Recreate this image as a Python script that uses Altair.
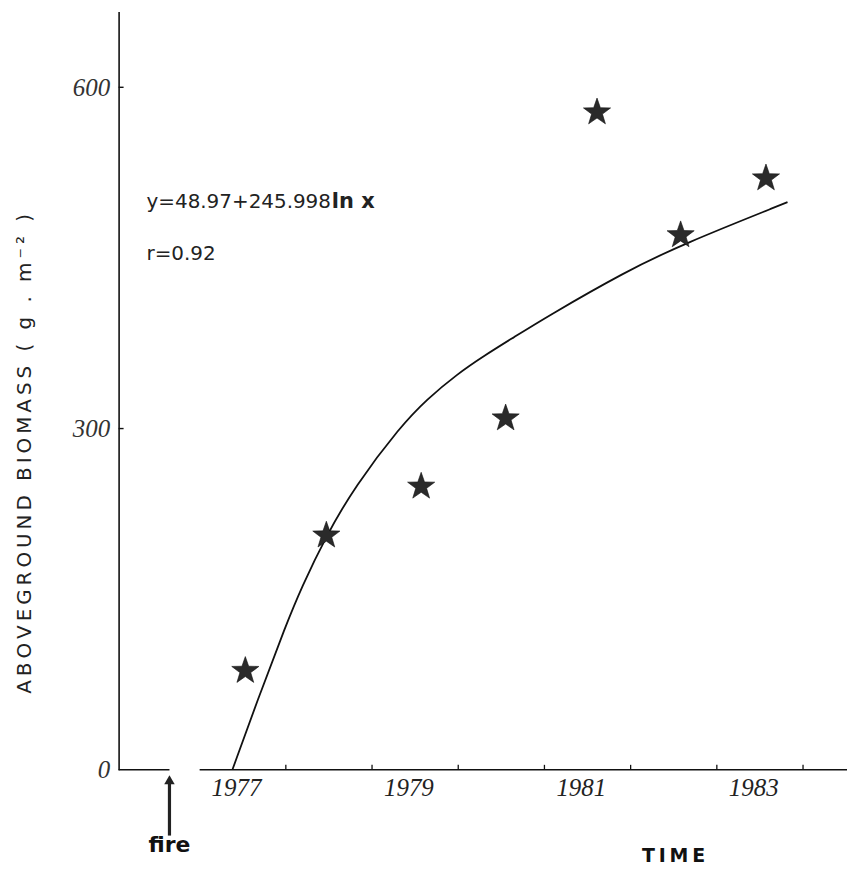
import altair as alt
import pandas as pd

# ---- data ----
obs_year = [1977.53, 1978.47, 1979.57, 1980.55, 1981.61, 1982.58, 1983.57]
obs_biomass = [87, 206, 249, 309, 578, 470, 520]

curve_year = [1977.38, 1977.69, 1978.0, 1978.18, 1978.47, 1978.80, 1979.33,
              1979.64, 1979.99, 1980.30, 1980.64, 1981.02, 1981.94, 1982.60, 1983.82]
curve_biomass = [0, 65, 127, 160, 206, 249, 302, 326, 348, 364, 380, 398, 438, 462, 499]

x_tick_years = [1978, 1979, 1980, 1981, 1982, 1983, 1984]
year_labels = [1977, 1979, 1981, 1983]
y_tick_values = [0, 300, 600]
fire_year = [1976.65]
axis_seg_start = [1976.06, 1977.0]
axis_seg_end = [1976.65, 1984.51]

x_domain = [1976.06, 1984.51]
y_domain = [0, 666.6]

W, H = 731, 761

obs = pd.DataFrame({"year": obs_year, "biomass": obs_biomass})
curve = pd.DataFrame({"year": curve_year, "biomass": curve_biomass})
xt = pd.DataFrame({"year": x_tick_years})
yl = pd.DataFrame({"year": year_labels, "label": [str(v) for v in year_labels]})
yt = pd.DataFrame({"v": [v for v in y_tick_values if v > 0]})
fire = pd.DataFrame({"year": fire_year})
segs = pd.DataFrame({"a": axis_seg_start, "b": axis_seg_end, "y": [0, 0]})

xs = alt.Scale(domain=x_domain, nice=False, zero=False)
ys = alt.Scale(domain=y_domain, nice=False, zero=False)

STAR = ("M0,-1 L0.235,-0.324 L0.951,-0.309 L0.380,0.124 L0.588,0.809 L0,0.4 "
        "L-0.588,0.809 L-0.380,0.124 L-0.951,-0.309 L-0.235,-0.324 Z")

thin = "\u2009"

# y axis (domain + labels)
yaxis = alt.Chart(obs).mark_point(opacity=0).encode(
    x=alt.X("year:Q", scale=xs, axis=None),
    y=alt.Y("biomass:Q", scale=ys, axis=alt.Axis(
        values=y_tick_values, ticks=False, grid=False, title=None,
        domainColor="#111", domainWidth=1.6,
        labelFont="Liberation Serif", labelFontStyle="italic",
        labelFontSize=25, labelColor="#333", labelPadding=9)),
)

ytick = alt.Chart(yt).mark_rule(color="#111", strokeWidth=1.4).encode(
    y=alt.Y("v:Q", scale=ys), x=alt.value(0), x2=alt.value(5))

xline = alt.Chart(segs).mark_rule(color="#111", strokeWidth=1.6).encode(
    x=alt.X("a:Q", scale=xs), x2="b:Q", y=alt.Y("y:Q", scale=ys))

xtick = alt.Chart(xt).mark_rule(color="#111", strokeWidth=1.3).encode(
    x=alt.X("year:Q", scale=xs), y=alt.value(H), y2=alt.value(H - 5))

xlab = alt.Chart(yl).mark_text(
    font="Liberation Serif", fontStyle="italic", fontSize=25, color="#222",
    align="center", baseline="alphabetic", dx=37).encode(
    x=alt.X("year:Q", scale=xs), y=alt.value(H + 26), text="label:N")

line = alt.Chart(curve).mark_line(color="#111", strokeWidth=1.8,
                                  interpolate="basis").encode(
    x=alt.X("year:Q", scale=xs), y=alt.Y("biomass:Q", scale=ys))

stars = alt.Chart(obs).mark_point(shape=STAR, size=820, filled=True,
                                  fill="#2a2a2a", stroke="#111",
                                  strokeWidth=0.6, opacity=1).encode(
    x=alt.X("year:Q", scale=xs), y=alt.Y("biomass:Q", scale=ys))

fire_rule = alt.Chart(fire).mark_rule(color="#222", strokeWidth=3.2).encode(
    x=alt.X("year:Q", scale=xs), y=alt.value(H + 66), y2=alt.value(H + 14))
fire_head = alt.Chart(fire).mark_point(shape="triangle-up", size=110,
                                       filled=True, color="#222",
                                       opacity=1).encode(
    x=alt.X("year:Q", scale=xs), y=alt.value(H + 10))
fire_text = alt.Chart(fire).mark_text(
    text="fire", font="DejaVu Sans", fontWeight="bold", fontSize=22,
    color="#111", align="center", baseline="alphabetic").encode(
    x=alt.X("year:Q", scale=xs), y=alt.value(H + 82))

ann = pd.DataFrame({"t": [0]})
time_text = alt.Chart(ann).mark_text(
    text=thin.join("TIME"), font="DejaVu Sans", fontWeight="bold",
    fontSize=19, color="#111", align="center", baseline="alphabetic").encode(
    x=alt.value(557), y=alt.value(H + 93))

ytitle_str = "ABOVEGROUND BIOMASS ( g . m\u207b\u00b2 )"
ytitle = alt.Chart(ann).mark_text(
    text=thin.join(ytitle_str), font="DejaVu Sans", fontSize=20,
    color="#222", angle=270, align="center", baseline="middle").encode(
    x=alt.value(-94), y=alt.value(444))

eq = alt.Chart(ann).mark_text(
    text="y=48.97+245.998", font="DejaVu Sans", fontSize=20,
    color="#222", align="left", baseline="alphabetic").encode(
    x=alt.value(28), y=alt.value(197))
eq_ln = alt.Chart(ann).mark_text(
    text="ln x", font="DejaVu Sans", fontSize=21, fontWeight="bold",
    color="#222", align="left", baseline="alphabetic").encode(
    x=alt.value(214), y=alt.value(197))
rtxt = alt.Chart(ann).mark_text(
    text="r=0.92", font="DejaVu Sans", fontSize=20,
    color="#222", align="left", baseline="alphabetic").encode(
    x=alt.value(28), y=alt.value(249))

chart = alt.layer(
    yaxis, ytick, xline, xtick, xlab, line, stars,
    fire_rule, fire_head, fire_text, time_text, ytitle, eq, eq_ln, rtxt
).properties(
    width=W, height=H,
    padding={"left": 111, "top": 2, "right": 0, "bottom": 100},
    autosize=alt.AutoSizeParams(type="none"),
    background="white",
).configure_view(stroke=None)

chart.save("out.html", embed_options={"renderer": "svg", "actions": False})
